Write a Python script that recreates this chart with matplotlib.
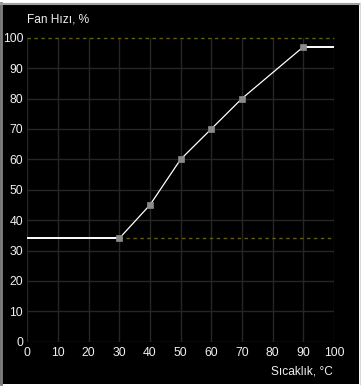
import matplotlib
matplotlib.use("Agg")
import matplotlib.pyplot as plt
from matplotlib.patches import Rectangle
from matplotlib.lines import Line2D

temps = [0, 30, 40, 50, 60, 70, 90, 100]
speeds = [34, 34, 45, 60, 70, 80, 97, 97]
marker_temps = [30, 40, 50, 60, 70, 90]
marker_speeds = [34, 45, 60, 70, 80, 97]
ticks = [0, 10, 20, 30, 40, 50, 60, 70, 80, 90, 100]
min_speed = 34
max_speed = 100
y_title = "Fan Hızı, %"
x_title = "Sıcaklık, °C"

plt.rcParams['font.family'] = ['Liberation Sans', 'DejaVu Sans']

W, H = 361, 389
fig = plt.figure(figsize=(W / 100, H / 100), dpi=100)
fig.patch.set_facecolor('#ffffff')

# black panel with gray bevel
fig.patches.append(Rectangle((0, 5 / H), 359 / W, (384 - 5) / H, transform=fig.transFigure,
                             facecolor='#000000', edgecolor='none', zorder=-10))
fig.lines.append(Line2D([1 / W, 1 / W], [5 / H, 1 - 3 / H], transform=fig.transFigure,
                        color='#808080', lw=2, zorder=-5))
fig.lines.append(Line2D([0, 359 / W], [1 - 3.5 / H, 1 - 3.5 / H], transform=fig.transFigure,
                        color='#a0a0a0', lw=1.5, zorder=-5))
fig.lines.append(Line2D([359.5 / W, 359.5 / W], [5 / H, 1 - 3 / H], transform=fig.transFigure,
                        color='#d8d8d8', lw=1, zorder=-5))

left, right = 27.3, 334.0
top, bottom = 37.7, 341.7
ax = fig.add_axes([left / W, 1 - bottom / H, (right - left) / W, (bottom - top) / H])
ax.set_zorder(1)
ax.set_facecolor('#000000')
ax.set_xlim(0, 100)
ax.set_ylim(0, 100)
for s in ax.spines.values():
    s.set_visible(False)

for t in ticks:
    ax.axvline(t, color='#262626', lw=1.0, zorder=1)
    if t < 100:
        ax.axhline(t, color='#262626', lw=1.0, zorder=1)

ax.plot([0, 100], [max_speed, max_speed], color='#5e5e0c', lw=1.0, ls=(0, (2.5, 2.5)), zorder=2,
        clip_on=False)
ax.plot([30, 100], [min_speed, min_speed], color='#5e5e0c', lw=1.0, ls=(0, (2.5, 2.5)), zorder=2)

ax.plot(temps[:2], speeds[:2], color='white', lw=1.4, zorder=3, solid_capstyle='butt')
ax.plot(temps[1:-1], speeds[1:-1], color='white', lw=0.9, zorder=3)
ax.plot(temps[-2:], speeds[-2:], color='white', lw=1.4, zorder=3, solid_capstyle='butt')
ax.plot(marker_temps, marker_speeds, ls='none', marker='s', ms=4.6, mfc='#8a8a8a',
        mec='#8a8a8a', mew=0.5, zorder=4)

ax.set_xticks(ticks)
ax.set_yticks(ticks)
ax.set_xticklabels([str(t) for t in ticks])
ax.set_yticklabels([str(t) for t in ticks])
ax.tick_params(length=0, colors='#f0f0f0', labelsize=8.8, pad=4)
ax.tick_params(axis='y', pad=3)

fig.text(left / W, 1 - 19 / H, y_title, color='#f0f0f0', fontsize=8.6, ha='left', va='center')
fig.text(333 / W, 1 - 372 / H, x_title, color='#f0f0f0', fontsize=8.6, ha='right', va='center')

fig.savefig('out.png', dpi=100, facecolor=fig.get_facecolor())
